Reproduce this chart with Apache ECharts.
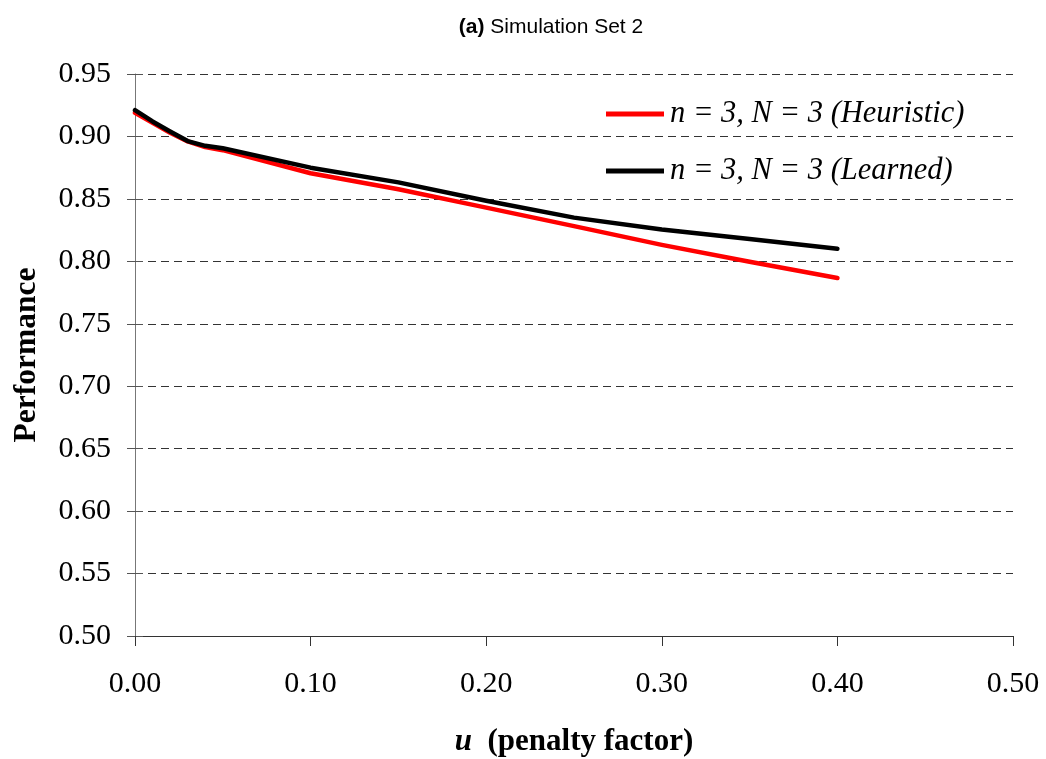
<!DOCTYPE html>
<html>
<head>
<meta charset="utf-8">
<script src="https://cdn.jsdelivr.net/npm/echarts@6/dist/echarts.min.js"></script>
<style>
  html, body { margin: 0; padding: 0; background: #fff; }
  #chart { width: 1046px; height: 759px; }
</style>
</head>
<body>
<div id="chart"></div>
<script>
// Penalty factor u (x values)
const penalty = [0, 0.01, 0.02, 0.03, 0.04, 0.05, 0.10, 0.15, 0.20, 0.25, 0.30, 0.35, 0.40];
// Performance, heuristic setting
const heuristic = [0.919, 0.911, 0.903, 0.896, 0.8915, 0.889, 0.8705, 0.8577, 0.843, 0.8282, 0.8132, 0.7997, 0.7866];
// Performance, learned setting
const learned = [0.921, 0.912, 0.904, 0.8963, 0.8925, 0.8905, 0.8750, 0.8632, 0.8485, 0.8350, 0.8255, 0.8178, 0.8100];

const seriesNames = ['n = 3, N = 3 (Heuristic)', 'n = 3, N = 3 (Learned)'];
const seriesColors = ['#ff0000', '#000000'];

const serif = '"Liberation Serif", "Times New Roman", serif';
const sans = '"Liberation Sans", Arial, sans-serif';

const chart = echarts.init(document.getElementById('chart'), null, { renderer: 'canvas' });

const pairs = arr => penalty.map((u, i) => [u, arr[i]]);

const yCommon = {
  type: 'value',
  min: 0.50,
  max: 0.95,
  interval: 0.05,
  position: 'left'
};

chart.setOption({
  backgroundColor: '#ffffff',
  animation: false,
  title: {
    text: '{b|(a)} {n|Simulation Set 2}',
    left: 546,
    top: 12,
    textAlign: 'center',
    textStyle: {
      fontWeight: 'normal',
      fontSize: 21,
      fontFamily: sans,
      rich: {
        b: { fontFamily: sans, fontWeight: 'bold', fontSize: 21, color: '#000' },
        n: { fontFamily: sans, fontWeight: 'normal', fontSize: 21, color: '#000' }
      }
    }
  },
  legend: {
    orient: 'vertical',
    left: 601,
    top: 94,
    itemGap: 27,
    itemWidth: 58,
    itemHeight: 30,
    icon: 'path://M0,12.6 L58,12.6 L58,17.4 L0,17.4 Z',
    data: seriesNames,
    textStyle: {
      fontFamily: serif,
      fontStyle: 'italic',
      fontSize: 30.5,
      color: '#000',
      padding: [0, 0, 0, 1]
    }
  },
  grid: { left: 135, right: 33, top: 74, bottom: 123, outerBoundsMode: 'none', containLabel: false },
  xAxis: {
    type: 'value',
    min: 0,
    max: 0.5,
    interval: 0.1,
    name: '{i|u}{b|\u2002(penalty factor)}',
    nameLocation: 'middle',
    nameGap: 90,
    nameTextStyle: {
      rich: {
        i: { fontFamily: serif, fontStyle: 'italic', fontWeight: 'bold', fontSize: 31, color: '#000' },
        b: { fontFamily: serif, fontWeight: 'bold', fontSize: 31, color: '#000' }
      }
    },
    axisLine: { lineStyle: { color: '#333', width: 1 } },
    axisTick: { show: true, inside: false, length: 10, lineStyle: { color: '#333' } },
    axisLabel: {
      margin: 33,
      fontFamily: serif,
      fontSize: 30,
      color: '#000',
      formatter: v => v.toFixed(2)
    },
    splitLine: { show: false }
  },
  yAxis: [
    Object.assign({}, yCommon, {
      name: 'Performance',
      nameLocation: 'middle',
      nameGap: 92,
      nameRotate: 90,
      nameTextStyle: { fontFamily: serif, fontWeight: 'bold', fontSize: 31.5, color: '#000' },
      axisLine: { show: true, lineStyle: { color: '#777', width: 1 } },
      axisTick: { show: true, inside: false, length: 8, lineStyle: { color: '#555' } },
      axisLabel: {
        margin: 24,
        fontFamily: serif,
        fontSize: 30,
        color: '#000',
        formatter: v => v.toFixed(2)
      },
      splitLine: { show: true, lineStyle: { color: '#333', width: 1, type: [8, 5] } }
    }),
    // inner half of the crossing tick marks
    Object.assign({}, yCommon, {
      axisLine: { show: false },
      axisTick: { show: true, inside: true, length: 8, lineStyle: { color: '#555' } },
      axisLabel: { show: false },
      splitLine: { show: false }
    })
  ],
  series: [
    {
      name: seriesNames[0],
      type: 'line',
      data: pairs(heuristic),
      showSymbol: false,
      symbol: 'none',
      lineStyle: { color: seriesColors[0], width: 4.5, cap: 'round', join: 'round' },
      itemStyle: { color: seriesColors[0] },
      z: 2
    },
    {
      name: seriesNames[1],
      type: 'line',
      data: pairs(learned),
      showSymbol: false,
      symbol: 'none',
      lineStyle: { color: seriesColors[1], width: 4.5, cap: 'round', join: 'round' },
      itemStyle: { color: seriesColors[1] },
      z: 3
    }
  ]
});
</script>
</body>
</html>
